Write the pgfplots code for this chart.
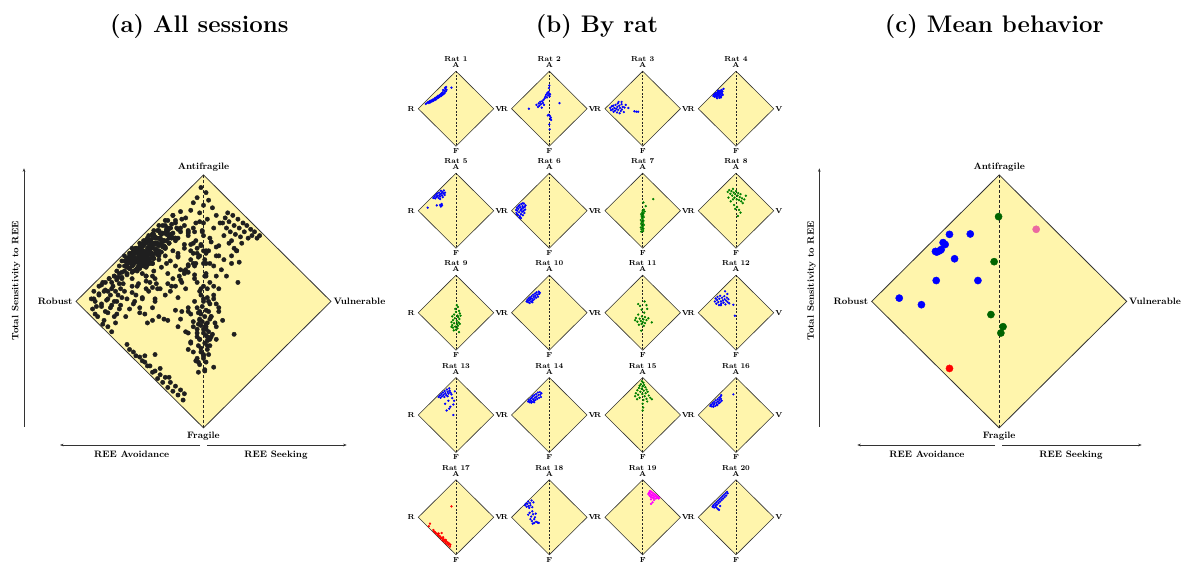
\documentclass[border=0pt]{standalone}
\usepackage{pgfplots}
\pgfplotsset{compat=1.18}
\usepackage{pgfplotstable}
\usetikzlibrary{arrows.meta}
\definecolor{dfill}{RGB}{255,245,172}
\definecolor{cgreen}{RGB}{0,128,0}
\definecolor{dgreen}{RGB}{0,100,0}
\definecolor{cmag}{RGB}{255,0,255}
\definecolor{cpink}{RGB}{235,105,160}

\pgfplotsset{
  diam/.style={scale only axis, hide axis, xmin=-1,xmax=1,ymin=-1,ymax=1, clip=false, anchor=center},
  smallax/.style={diam, width=75.5pt, height=75pt},
  bigax/.style={diam, width=255pt, height=253pt},
  amark/.style={only marks, mark=*, mark size=2.2pt, color=black!88},
}
\tikzset{
  bl/.style={font=\fontsize{9.3}{11}\selectfont\bfseries, inner sep=0pt},
  sl/.style={font=\fontsize{7.3}{8.5}\selectfont\bfseries, inner sep=0pt},
  tl/.style={font=\fontsize{24}{28}\selectfont\bfseries, inner sep=0pt, anchor=base},
  arr/.style={draw=black!80, line width=0.5pt, -{Stealth[length=3.5pt,width=2.6pt]}},
}

\pgfplotstableread[row sep=\\]{x y\\
-0.80 0.13\\ -0.77 0.15\\ -0.74 0.18\\ -0.72 0.15\\ -0.70 0.20\\ -0.68 0.17\\ -0.66 0.22\\ -0.64 0.19\\ -0.62 0.24\\ -0.60 0.21\\ -0.58 0.26\\ -0.56 0.23\\ -0.55 0.29\\ -0.53 0.25\\ -0.51 0.31\\ -0.49 0.28\\ -0.48 0.34\\ -0.46 0.30\\ -0.44 0.36\\ -0.43 0.32\\ -0.41 0.38\\ -0.39 0.34\\ -0.38 0.41\\ -0.36 0.37\\ -0.35 0.44\\ -0.33 0.39\\ -0.31 0.48\\ -0.30 0.42\\ -0.28 0.53\\ -0.27 0.46\\ -0.26 0.58\\ -0.25 0.50\\ -0.29 0.56\\ -0.34 0.50\\ -0.12 0.56\\
}\ratA
\pgfplotstableread[row sep=\\]{x y\\
-0.54 0.00\\ -0.34 0.10\\ -0.30 0.05\\ -0.28 0.14\\ -0.26 0.08\\ -0.24 0.18\\ -0.22 0.12\\ -0.20 0.03\\ -0.19 0.20\\ -0.17 0.15\\ -0.15 0.24\\ -0.14 0.10\\ -0.12 0.28\\ -0.10 0.33\\ -0.08 0.38\\ -0.06 0.30\\ -0.05 0.42\\ -0.03 0.36\\ -0.02 0.45\\ 0.00 0.40\\ 0.01 0.33\\ -0.01 0.55\\ 0.00 0.62\\ 0.02 0.38\\ 0.27 0.15\\ -0.01 -0.16\\ 0.02 -0.20\\ 0.04 -0.24\\ 0.03 -0.28\\ 0.05 -0.30\\ 0.00 -0.42\\ 0.01 -0.55\\ -0.04 -0.18\\
}\ratB
\pgfplotstableread[row sep=\\]{x y\\
-0.86 0.02\\ -0.84 -0.04\\ -0.82 0.06\\ -0.80 -0.02\\ -0.78 0.08\\ -0.77 -0.08\\ -0.75 0.02\\ -0.73 -0.05\\ -0.72 0.10\\ -0.70 0.00\\ -0.68 -0.10\\ -0.67 0.05\\ -0.65 -0.03\\ -0.64 0.18\\ -0.62 0.08\\ -0.61 -0.12\\ -0.60 0.02\\ -0.58 -0.06\\ -0.56 0.12\\ -0.55 -0.02\\ -0.53 0.05\\ -0.50 -0.09\\ -0.48 0.03\\ -0.56 0.18\\ -0.45 0.10\\ -0.38 0.02\\ -0.22 -0.07\\ -0.17 -0.08\\ -0.12 -0.08\\ -0.66 0.14\\
}\ratC
\pgfplotstableread[row sep=\\]{x y\\
-0.60 0.34\\ -0.58 0.38\\ -0.57 0.32\\ -0.55 0.40\\ -0.54 0.35\\ -0.53 0.42\\ -0.52 0.31\\ -0.50 0.38\\ -0.49 0.44\\ -0.48 0.34\\ -0.47 0.40\\ -0.46 0.46\\ -0.45 0.36\\ -0.44 0.42\\ -0.43 0.32\\ -0.42 0.48\\ -0.41 0.38\\ -0.40 0.44\\ -0.39 0.34\\ -0.38 0.50\\ -0.37 0.41\\ -0.36 0.46\\ -0.35 0.37\\ -0.50 0.28\\ -0.44 0.29\\ -0.40 0.30\\ -0.47 0.48\\ -0.33 0.53\\
}\ratD
\pgfplotstableread[row sep=\\]{x y\\
-0.60 0.34\\ -0.57 0.38\\ -0.55 0.33\\ -0.53 0.42\\ -0.51 0.37\\ -0.50 0.46\\ -0.48 0.40\\ -0.46 0.34\\ -0.45 0.48\\ -0.43 0.43\\ -0.42 0.38\\ -0.40 0.53\\ -0.39 0.46\\ -0.37 0.41\\ -0.36 0.50\\ -0.35 0.36\\ -0.33 0.46\\ -0.32 0.54\\ -0.30 0.42\\ -0.42 0.31\\ -0.75 0.08\\ -0.51 0.14\\ -0.42 0.15\\ -0.40 0.11\\ -0.37 0.14\\ -0.38 0.18\\ -0.29 0.48\\
}\ratE
\pgfplotstableread[row sep=\\]{x y\\
-0.88 0.02\\ -0.87 -0.06\\ -0.86 0.08\\ -0.85 0.00\\ -0.83 -0.12\\ -0.82 0.12\\ -0.82 0.05\\ -0.80 -0.04\\ -0.79 0.15\\ -0.78 -0.15\\ -0.77 0.09\\ -0.76 0.01\\ -0.75 -0.09\\ -0.74 0.18\\ -0.73 0.05\\ -0.72 -0.03\\ -0.71 0.12\\ -0.70 -0.12\\ -0.69 0.08\\ -0.68 0.00\\ -0.67 0.19\\ -0.66 -0.06\\ -0.65 0.10\\ -0.64 0.03\\ -0.63 0.14\\ -0.79 -0.18\\ -0.75 -0.20\\ -0.85 -0.10\\ -0.70 0.20\\
}\ratF
\pgfplotstableread[row sep=\\]{x y\\
-0.04 -0.56\\ 0.01 -0.54\\ -0.03 -0.50\\ 0.02 -0.48\\ -0.05 -0.45\\ 0.00 -0.43\\ -0.02 -0.40\\ 0.03 -0.38\\ -0.04 -0.35\\ 0.01 -0.33\\ -0.03 -0.30\\ 0.02 -0.27\\ -0.05 -0.25\\ 0.00 -0.22\\ -0.02 -0.19\\ 0.03 -0.17\\ -0.03 -0.14\\ 0.01 -0.12\\ -0.04 -0.09\\ 0.02 -0.07\\ -0.01 -0.04\\ 0.00 0.00\\ 0.03 0.03\\ 0.02 0.22\\ 0.08 0.12\\ 0.28 0.31\\ 0.05 -0.02\\
}\ratG
\pgfplotstableread[row sep=\\]{x y\\
-0.22 0.50\\ -0.18 0.55\\ -0.15 0.45\\ -0.12 0.52\\ -0.10 0.40\\ -0.08 0.58\\ -0.06 0.48\\ -0.04 0.35\\ -0.02 0.44\\ 0.00 0.52\\ 0.02 0.30\\ 0.04 0.40\\ 0.06 0.47\\ 0.08 0.28\\ 0.10 0.36\\ 0.12 0.44\\ 0.14 0.25\\ 0.16 0.33\\ 0.18 0.20\\ 0.22 0.30\\ -0.20 0.35\\ -0.14 0.25\\ -0.05 0.15\\ 0.03 0.10\\ 0.08 0.02\\ 0.12 -0.05\\ -0.02 0.05\\ 0.05 -0.14\\ 0.26 0.40\\ -0.08 0.30\\
}\ratH
\pgfplotstableread[row sep=\\]{x y\\
0.02 0.20\\ 0.05 0.15\\ -0.02 0.10\\ 0.08 0.05\\ 0.00 0.02\\ 0.10 -0.02\\ -0.05 -0.05\\ 0.04 -0.08\\ -0.10 -0.10\\ 0.06 -0.12\\ -0.03 -0.15\\ 0.09 -0.17\\ -0.08 -0.20\\ 0.02 -0.22\\ -0.12 -0.25\\ 0.07 -0.26\\ -0.05 -0.28\\ 0.03 -0.31\\ -0.10 -0.33\\ 0.05 -0.35\\ -0.02 -0.37\\ -0.08 -0.40\\ 0.04 -0.42\\ 0.00 -0.45\\ 0.08 -0.52\\ -0.06 -0.47\\ 0.12 -0.08\\ -0.12 -0.38\\ 0.10 -0.30\\
}\ratI
\pgfplotstableread[row sep=\\]{x y\\
-0.60 0.30\\ -0.58 0.34\\ -0.56 0.28\\ -0.55 0.38\\ -0.53 0.33\\ -0.51 0.41\\ -0.50 0.36\\ -0.48 0.30\\ -0.47 0.44\\ -0.46 0.38\\ -0.44 0.33\\ -0.43 0.48\\ -0.41 0.42\\ -0.40 0.36\\ -0.38 0.51\\ -0.37 0.45\\ -0.35 0.40\\ -0.34 0.54\\ -0.32 0.48\\ -0.30 0.43\\ -0.28 0.56\\ -0.27 0.50\\ -0.25 0.53\\ -0.52 0.26\\ -0.45 0.28\\
}\ratJ
\pgfplotstableread[row sep=\\]{x y\\
-0.12 0.23\\ 0.05 0.30\\ -0.07 0.18\\ 0.10 0.20\\ 0.12 0.10\\ -0.03 0.08\\ 0.04 0.00\\ -0.12 -0.05\\ -0.02 -0.10\\ 0.06 -0.12\\ -0.18 -0.14\\ -0.08 -0.16\\ 0.02 -0.18\\ 0.10 -0.20\\ -0.05 -0.22\\ 0.00 -0.25\\ -0.14 -0.24\\ 0.06 -0.28\\ -0.03 -0.30\\ 0.24 -0.26\\ -0.10 -0.32\\ 0.03 -0.35\\ -0.04 -0.48\\ 0.15 -0.15\\ -0.20 -0.20\\
}\ratK
\pgfplotstableread[row sep=\\]{x y\\
-0.56 0.30\\ -0.54 0.38\\ -0.52 0.24\\ -0.50 0.34\\ -0.49 0.42\\ -0.47 0.28\\ -0.45 0.20\\ -0.44 0.37\\ -0.42 0.45\\ -0.40 0.30\\ -0.39 0.24\\ -0.37 0.40\\ -0.35 0.33\\ -0.33 0.27\\ -0.31 0.44\\ -0.30 0.36\\ -0.28 0.22\\ -0.26 0.32\\ -0.24 0.40\\ -0.22 0.28\\ -0.20 0.36\\ -0.18 0.25\\ -0.29 0.57\\ -0.23 0.50\\ -0.07 0.21\\ -0.03 -0.08\\ -0.40 0.20\\
}\ratL
\pgfplotstableread[row sep=\\]{x y\\
-0.46 0.48\\ -0.43 0.52\\ -0.41 0.46\\ -0.39 0.56\\ -0.37 0.50\\ -0.35 0.60\\ -0.33 0.54\\ -0.31 0.48\\ -0.30 0.64\\ -0.28 0.58\\ -0.26 0.53\\ -0.24 0.68\\ -0.22 0.62\\ -0.20 0.57\\ -0.18 0.71\\ -0.17 0.65\\ -0.15 0.60\\ -0.22 0.50\\ -0.12 0.55\\ -0.03 0.63\\ -0.10 0.45\\ -0.29 0.30\\ -0.20 0.38\\ -0.07 0.28\\ -0.15 0.22\\ -0.25 0.12\\ -0.18 0.17\\ -0.07 0.00\\ -0.05 0.38\\
}\ratM
\pgfplotstableread[row sep=\\]{x y\\
-0.56 0.36\\ -0.54 0.40\\ -0.52 0.34\\ -0.50 0.43\\ -0.49 0.38\\ -0.47 0.46\\ -0.46 0.35\\ -0.44 0.50\\ -0.43 0.42\\ -0.41 0.38\\ -0.40 0.53\\ -0.38 0.46\\ -0.37 0.40\\ -0.35 0.56\\ -0.34 0.49\\ -0.32 0.43\\ -0.30 0.60\\ -0.29 0.53\\ -0.27 0.46\\ -0.25 0.61\\ -0.24 0.54\\ -0.22 0.48\\ -0.21 0.58\\ -0.48 0.33\\ -0.40 0.34\\
}\ratN
\pgfplotstableread[row sep=\\]{x y\\
-0.02 0.90\\ 0.02 0.86\\ -0.05 0.82\\ 0.04 0.80\\ -0.08 0.78\\ 0.00 0.76\\ 0.07 0.74\\ -0.10 0.72\\ -0.03 0.70\\ 0.10 0.68\\ -0.14 0.66\\ 0.03 0.65\\ -0.06 0.62\\ 0.13 0.62\\ -0.18 0.58\\ 0.08 0.58\\ -0.01 0.56\\ -0.12 0.54\\ 0.16 0.52\\ 0.05 0.50\\ -0.20 0.50\\ 0.20 0.46\\ -0.08 0.46\\ 0.10 0.43\\ -0.15 0.42\\ 0.24 0.42\\ 0.02 0.40\\ 0.12 0.36\\ 0.00 0.30\\ 0.01 0.20\\ 0.00 0.12\\
}\ratO
\pgfplotstableread[row sep=\\]{x y\\
-0.68 0.24\\ -0.66 0.28\\ -0.64 0.23\\ -0.62 0.32\\ -0.60 0.27\\ -0.58 0.35\\ -0.57 0.30\\ -0.55 0.24\\ -0.54 0.39\\ -0.52 0.33\\ -0.51 0.28\\ -0.49 0.42\\ -0.48 0.36\\ -0.46 0.31\\ -0.45 0.46\\ -0.44 0.40\\ -0.42 0.34\\ -0.41 0.49\\ -0.40 0.43\\ -0.38 0.38\\ -0.39 0.53\\ -0.07 0.55\\ -0.60 0.22\\ -0.50 0.26\\
}\ratP
\pgfplotstableread[row sep=\\]{x y\\
-0.12 0.29\\ -0.69 -0.17\\ -0.72 -0.24\\ -0.60 -0.34\\ -0.58 -0.38\\ -0.55 -0.40\\ -0.53 -0.43\\ -0.50 -0.44\\ -0.48 -0.47\\ -0.46 -0.48\\ -0.44 -0.51\\ -0.42 -0.51\\ -0.40 -0.56\\ -0.38 -0.42\\ -0.38 -0.55\\ -0.36 -0.61\\ -0.34 -0.58\\ -0.32 -0.64\\ -0.30 -0.60\\ -0.28 -0.68\\ -0.26 -0.64\\ -0.24 -0.71\\ -0.22 -0.67\\ -0.20 -0.74\\ -0.18 -0.70\\ -0.16 -0.78\\ -0.15 -0.73\\ -0.46 -0.43\\ -0.34 -0.53\\ -0.27 -0.60\\
}\ratQ
\pgfplotstableread[row sep=\\]{x y\\
-0.64 0.32\\ -0.62 0.36\\ -0.60 0.28\\ -0.58 0.36\\ -0.56 0.42\\ -0.55 0.30\\ -0.53 0.25\\ -0.51 0.38\\ -0.50 0.32\\ -0.47 0.45\\ -0.45 0.27\\ -0.42 0.40\\ -0.56 0.07\\ -0.52 0.12\\ -0.48 0.02\\ -0.45 0.16\\ -0.43 0.08\\ -0.50 -0.05\\ -0.46 -0.10\\ -0.40 -0.05\\ -0.38 0.00\\ -0.35 -0.12\\ -0.31 -0.14\\ -0.28 -0.15\\ -0.40 -0.15\\ -0.44 -0.17\\ -0.36 0.10\\
}\ratR
\pgfplotstableread[row sep=\\]{x y\\
0.15 0.62\\ 0.17 0.66\\ 0.18 0.58\\ 0.20 0.63\\ 0.21 0.55\\ 0.23 0.68\\ 0.24 0.60\\ 0.25 0.53\\ 0.27 0.65\\ 0.28 0.58\\ 0.29 0.51\\ 0.31 0.62\\ 0.32 0.55\\ 0.34 0.60\\ 0.35 0.50\\ 0.37 0.57\\ 0.38 0.52\\ 0.40 0.55\\ 0.42 0.50\\ 0.44 0.52\\ 0.22 0.48\\ 0.30 0.46\\ 0.22 0.36\\ 0.26 0.40\\ 0.19 0.70\\
}\ratS
\pgfplotstableread[row sep=\\]{x y\\
-0.62 0.28\\ -0.60 0.32\\ -0.58 0.26\\ -0.56 0.36\\ -0.54 0.31\\ -0.52 0.40\\ -0.50 0.34\\ -0.48 0.44\\ -0.46 0.38\\ -0.44 0.48\\ -0.42 0.42\\ -0.40 0.52\\ -0.38 0.46\\ -0.36 0.56\\ -0.34 0.50\\ -0.32 0.60\\ -0.30 0.54\\ -0.28 0.64\\ -0.26 0.58\\ -0.24 0.68\\ -0.22 0.64\\ -0.48 0.22\\ -0.45 0.20\\ -0.52 0.26\\ -0.42 0.30\\
}\ratT

\pgfplotstableread[row sep=\\]{x y\\
-0.39 0.53\\ -0.227 0.533\\ -0.44 0.465\\ -0.424 0.45\\ -0.468 0.40\\ -0.50 0.395\\ -0.455 0.41\\ -0.49 0.39\\ -0.35 0.337\\ -0.494 0.165\\ -0.167 0.165\\ -0.784 0.026\\ -0.61 -0.026\\
}\meanBlue
\pgfplotstableread[row sep=\\]{x y\\
-0.005 0.67\\ -0.04 0.314\\ -0.065 -0.104\\ 0.03 -0.20\\ 0.013 -0.25\\
}\meanGreen
\pgfplotstableread[row sep=\\]{x y\\
-0.39 -0.53\\
}\meanRed
\pgfplotstableread[row sep=\\]{x y\\
0.29 0.57\\
}\meanPink

\newcommand{\diamondshape}[3]{%
\addplot[fill=dfill, draw=black!80, line width=#1] coordinates {(0,1) (1,0) (0,-1) (-1,0)} -- cycle;
\addplot[black!85, line width=0.5pt, dash pattern=on #2 off #3] coordinates {(0,1) (0,-1)};
}

\newcommand{\ratpanel}[5]{%
\begin{axis}[smallax, at={(#1pt,#2pt)}]
\diamondshape{0.6pt}{2pt}{1.6pt}
\addplot[only marks, mark=*, mark size=0.95pt, color=#5] table {#4};
\node[sl, anchor=base, yshift=9.4pt] at (axis cs:0,1) {Rat #3};
\node[sl, anchor=base, yshift=3.2pt] at (axis cs:0,1) {A};
\node[sl, anchor=north, yshift=-2.3pt] at (axis cs:0,-1) {F};
\node[sl, anchor=east, xshift=-3.5pt] at (axis cs:-1,0) {R};
\node[sl, anchor=west, xshift=1.3pt] at (axis cs:1,0) {V};
\end{axis}}

\newcommand{\bigdecor}{%
\node[bl, anchor=base, yshift=5pt] at (axis cs:0,1) {Antifragile};
\node[bl, anchor=north, yshift=-4pt] at (axis cs:0,-1) {Fragile};
\node[bl, anchor=east, xshift=-3.3pt] at (axis cs:-1,0) {Robust};
\node[bl, anchor=west, xshift=2.3pt] at (axis cs:1,0) {Vulnerable};
}

\begin{document}
\begin{tikzpicture}
\path[use as bounding box] (0pt,0pt) rectangle (1183pt,563pt);

% titles
\node[tl] at (199.3pt,530.5pt) {(a) All sessions};
\node[tl] at (597pt,530.5pt) {(b) By rat};
\node[tl] at (994.3pt,530.5pt) {(c) Mean behavior};

% ---------- (a) ----------
\begin{axis}[bigax, at={(203.5pt,261.6pt)}]
\diamondshape{0.8pt}{3pt}{2pt}
\addplot[amark] table {\ratA};
\addplot[amark] table {\ratB};
\addplot[amark] table {\ratC};
\addplot[amark] table {\ratD};
\addplot[amark] table {\ratE};
\addplot[amark] table {\ratF};
\addplot[amark] table {\ratG};
\addplot[amark] table {\ratH};
\addplot[amark] table {\ratI};
\addplot[amark] table {\ratJ};
\addplot[amark] table {\ratK};
\addplot[amark] table {\ratL};
\addplot[amark] table {\ratM};
\addplot[amark] table {\ratN};
\addplot[amark] table {\ratO};
\addplot[amark] table {\ratP};
\addplot[amark] table {\ratQ};
\addplot[amark] table {\ratR};
\addplot[amark] table {\ratS};
\addplot[amark] table {\ratT};
\bigdecor
\end{axis}
\draw[arr] (24pt,136.3pt) -- (24pt,394.7pt);
\node[bl, rotate=90] at (16pt,282pt) {Total Sensitivity to REE};
\draw[arr] (200pt,118pt) -- (60pt,118pt);
\draw[arr] (207.3pt,118pt) -- (346.7pt,118pt);
\node[bl, anchor=base] at (131.7pt,105.7pt) {REE Avoidance};
\node[bl, anchor=base] at (276pt,105.7pt) {REE Seeking};

% ---------- (b) ----------
\ratpanel{456}{454.3}{1}{\ratA}{blue}
\ratpanel{549.3}{454.3}{2}{\ratB}{blue}
\ratpanel{642.7}{454.3}{3}{\ratC}{blue}
\ratpanel{736}{454.3}{4}{\ratD}{blue}
\ratpanel{456}{352.3}{5}{\ratE}{blue}
\ratpanel{549.3}{352.3}{6}{\ratF}{blue}
\ratpanel{642.7}{352.3}{7}{\ratG}{cgreen}
\ratpanel{736}{352.3}{8}{\ratH}{cgreen}
\ratpanel{456}{250.3}{9}{\ratI}{cgreen}
\ratpanel{549.3}{250.3}{10}{\ratJ}{blue}
\ratpanel{642.7}{250.3}{11}{\ratK}{cgreen}
\ratpanel{736}{250.3}{12}{\ratL}{blue}
\ratpanel{456}{148}{13}{\ratM}{blue}
\ratpanel{549.3}{148}{14}{\ratN}{blue}
\ratpanel{642.7}{148}{15}{\ratO}{cgreen}
\ratpanel{736}{148}{16}{\ratP}{blue}
\ratpanel{456}{45.7}{17}{\ratQ}{red}
\ratpanel{549.3}{45.7}{18}{\ratR}{blue}
\ratpanel{642.7}{45.7}{19}{\ratS}{cmag}
\ratpanel{736}{45.7}{20}{\ratT}{blue}

% ---------- (c) ----------
\begin{axis}[bigax, at={(999.2pt,261.6pt)}]
\diamondshape{0.8pt}{3pt}{2pt}
\addplot[only marks, mark=*, mark size=3.6pt, color=blue] table {\meanBlue};
\addplot[only marks, mark=*, mark size=3.6pt, color=dgreen] table {\meanGreen};
\addplot[only marks, mark=*, mark size=3.6pt, color=red] table {\meanRed};
\addplot[only marks, mark=*, mark size=3.6pt, color=cpink] table {\meanPink};
\bigdecor
\end{axis}
\draw[arr] (819.3pt,136.3pt) -- (819.3pt,394.7pt);
\node[bl, rotate=90] at (811.5pt,282pt) {Total Sensitivity to REE};
\draw[arr] (995pt,118pt) -- (857.3pt,118pt);
\draw[arr] (1002.3pt,118pt) -- (1141.7pt,118pt);
\node[bl, anchor=base] at (927pt,105.7pt) {REE Avoidance};
\node[bl, anchor=base] at (1071pt,105.7pt) {REE Seeking};
\end{tikzpicture}
\end{document}
